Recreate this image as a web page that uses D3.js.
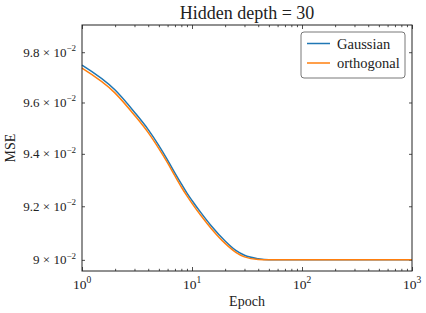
<!DOCTYPE html>
<html>
<head>
<meta charset="utf-8">
<script src="https://cdn.jsdelivr.net/npm/d3@7"></script>
<style>
  body { margin: 0; background: #fff; }
  svg text { font-family: "Liberation Serif", "DejaVu Serif", serif; fill: #222; }
</style>
</head>
<body>
<div id="chart"></div>
<script>
// data
var epochs = [1, 2, 3, 4, 5, 6, 7, 8, 9, 10, 12, 15, 20, 25, 30, 40, 50, 70, 100, 1000];
var gaussian = [0.09748, 0.09649, 0.09562, 0.09494, 0.09432, 0.09376, 0.09326, 0.09285, 0.09250, 0.09222,
  0.09177, 0.09126, 0.09070, 0.09035, 0.09017, 0.09004, 0.09000, 0.09000, 0.09000, 0.09000];
var orthogonal = [0.09736, 0.09637, 0.09550, 0.09482, 0.09420, 0.09365, 0.09315, 0.09273, 0.09239, 0.09211,
  0.09166, 0.09116, 0.09061, 0.09028, 0.09011, 0.09001, 0.09000, 0.09000, 0.09000, 0.09000];
var seriesNames = ["Gaussian", "orthogonal"];
var seriesColors = ["#1f77b4", "#ff7f0e"];
var yTicks = [0.090, 0.092, 0.094, 0.096, 0.098];
var yTickMantissa = ["9", "9.2", "9.4", "9.6", "9.8"];
var xTicks = [1, 10, 100, 1000];
var xTickExp = ["0", "1", "2", "3"];

var svgWidth = 426;
var svgHeight = 313;
var margin = { top: 25, right: 14, bottom: 42, left: 82 };
var width = svgWidth - margin.left - margin.right;
var height = svgHeight - margin.top - margin.bottom;

var svg = d3.select("#chart")
  .append("svg")
  .attr("width", svgWidth)
  .attr("height", svgHeight)
  .attr("font-family", "Liberation Serif, DejaVu Serif, serif");

var chartGroup = svg.append("g")
  .attr("transform", `translate(${margin.left}, ${margin.top})`);

var xScale = d3.scaleLog().domain([1, 1000]).range([0, width]);
var yScale = d3.scaleLog().domain([0.08959, 0.0991]).range([height, 0]);

// minor ticks for the x axis: 2..9 in each decade
var xMinor = [];
[1, 10, 100].forEach(function(dec) {
  for (var k = 2; k <= 9; k++) xMinor.push(dec * k);
});

// inward ticks on all four sides
function tickAxis(axisFn, scale, ticks, size, transform) {
  chartGroup.append("g")
    .attr("transform", transform)
    .call(axisFn(scale).tickValues(ticks).tickSize(size).tickFormat(""))
    .call(g => g.select(".domain").remove())
    .call(g => g.selectAll("line").attr("stroke", "#222").attr("stroke-width", 0.8));
}
tickAxis(d3.axisBottom, xScale, xTicks, -4, `translate(0, ${height})`);
tickAxis(d3.axisBottom, xScale, xMinor, -2.2, `translate(0, ${height})`);
tickAxis(d3.axisTop, xScale, xTicks, -4, "translate(0, 0)");
tickAxis(d3.axisTop, xScale, xMinor, -2.2, "translate(0, 0)");
tickAxis(d3.axisLeft, yScale, yTicks, -3, "translate(0, 0)");
tickAxis(d3.axisRight, yScale, yTicks, -3, `translate(${width}, 0)`);

// lines
var line = d3.line()
  .x((d, i) => xScale(epochs[i]))
  .y(d => yScale(d))
  .curve(d3.curveMonotoneX);

[gaussian, orthogonal].forEach(function(vals, i) {
  chartGroup.append("path")
    .datum(vals)
    .attr("d", line)
    .attr("fill", "none")
    .attr("stroke", seriesColors[i])
    .attr("stroke-width", 1.5);
});

// frame
chartGroup.append("rect")
  .attr("width", width)
  .attr("height", height)
  .attr("fill", "none")
  .attr("stroke", "#222")
  .attr("stroke-width", 1);

// y tick labels
yTicks.forEach(function(t, i) {
  var txt = chartGroup.append("text")
    .attr("x", -6)
    .attr("y", yScale(t) + 4.5)
    .attr("text-anchor", "end")
    .style("font-size", "13px");
  txt.append("tspan").text(yTickMantissa[i] + " \u00d7 10");
  txt.append("tspan").attr("dy", -5.5).style("font-size", "9px").text("\u22122");
});

// x tick labels
xTicks.forEach(function(t, i) {
  var txt = chartGroup.append("text")
    .attr("x", xScale(t))
    .attr("y", height + 18)
    .attr("text-anchor", "middle")
    .style("font-size", "13.5px");
  txt.append("tspan").text("10");
  txt.append("tspan").attr("dy", -6).style("font-size", "9.5px").text(xTickExp[i]);
});

// axis titles
chartGroup.append("text")
  .attr("x", width / 2)
  .attr("y", height + 35)
  .attr("text-anchor", "middle")
  .style("font-size", "14px")
  .text("Epoch");

chartGroup.append("text")
  .attr("transform", "rotate(-90)")
  .attr("x", -height / 2)
  .attr("y", -67)
  .attr("text-anchor", "middle")
  .style("font-size", "14px")
  .text("MSE");

// title
svg.append("text")
  .attr("x", margin.left + width / 2)
  .attr("y", 19)
  .attr("text-anchor", "middle")
  .style("font-size", "18px")
  .text("Hidden depth = 30");

// legend
var legend = chartGroup.append("g")
  .attr("transform", `translate(${width - 111}, 7)`);

legend.append("rect")
  .attr("width", 104)
  .attr("height", 46)
  .attr("rx", 3)
  .attr("fill", "#fff")
  .attr("stroke", "#555")
  .attr("stroke-width", 0.8);

seriesNames.forEach(function(name, i) {
  var ly = 11.5 + i * 19.5;
  legend.append("line")
    .attr("x1", 6).attr("x2", 29)
    .attr("y1", ly).attr("y2", ly)
    .attr("stroke", seriesColors[i])
    .attr("stroke-width", 1.5);
  legend.append("text")
    .attr("x", 36)
    .attr("y", ly + 5)
    .style("font-size", "14.5px")
    .text(name);
});
</script>
</body>
</html>
